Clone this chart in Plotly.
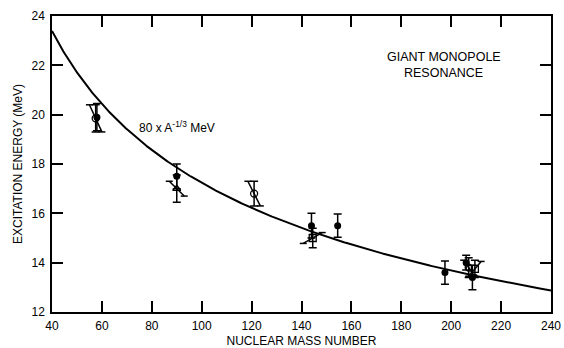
import numpy as np
import plotly.graph_objects as go

# ---- data ----
filled_A = [58, 90, 144, 154.5, 197.5, 206, 208.5]
filled_E = [19.9, 17.5, 15.5, 15.5, 13.6, 14.0, 13.4]
filled_err = [0.55, 0.5, 0.5, 0.47, 0.47, 0.3, 0.5]

open_A = [57.5, 90, 121, 144.5, 207, 209.5]
open_E = [19.85, 17.0, 16.8, 15.0, 13.8, 13.75]
open_err = [0.55, 0.55, 0.5, 0.4, 0.4, 0.35]
open_sym = ["circle-open", "triangle-up-open", "circle-open", "square-open", "circle-open", "square-open"]
slant_dA = [2.5, 3.0, 2.5, -3.8, 2.0, -2.5]
slant_dE = [0.55, 0.3, 0.5, 0.22, 0.3, 0.3]

curve_coef = 80.0
curve_exp = -1.0 / 3.0
x_ticks = list(range(40, 241, 20))
y_ticks = list(range(12, 25, 2))

FONT = "Liberation Sans"
fig = go.Figure()

# theoretical curve
A = np.linspace(40, 240, 400)
fig.add_trace(go.Scatter(x=A, y=curve_coef * A ** curve_exp, mode="lines",
                         line=dict(color="black", width=2), showlegend=False, hoverinfo="skip"))

# slanted bars for open points
cap = 1.4
sx, sy = [], []
for a, e, da, de in zip(open_A, open_E, slant_dA, slant_dE):
    x1, y1, x2, y2 = a - da, e + de, a + da, e - de
    sx += [x1, x2, None, x1 - cap, x1 + cap, None, x2 - cap, x2 + cap, None]
    sy += [y1, y2, None, y1, y1, None, y2, y2, None]
fig.add_trace(go.Scatter(x=sx, y=sy, mode="lines", line=dict(color="black", width=1.5),
                         showlegend=False, hoverinfo="skip"))

# open points
fig.add_trace(go.Scatter(x=open_A, y=open_E, mode="markers",
                         marker=dict(symbol=open_sym, size=7, color="black", line=dict(width=1.3)),
                         error_y=dict(type="data", array=open_err, color="black", thickness=1.5, width=4),
                         showlegend=False))

# filled points
fig.add_trace(go.Scatter(x=filled_A, y=filled_E, mode="markers",
                         marker=dict(symbol="circle", size=7, color="black"),
                         error_y=dict(type="data", array=filled_err, color="black", thickness=1.5, width=4),
                         showlegend=False))

fig.add_annotation(x=74, y=19.5, xref="x", yref="y", xanchor="left", yanchor="middle",
                   text="80 x A<sup>-1/3</sup> MeV", showarrow=False,
                   font=dict(family=FONT, size=12, color="black"))
fig.add_annotation(x=197, y=22.32, xref="x", yref="y", xanchor="center", yanchor="middle",
                   text="GIANT MONOPOLE", showarrow=False,
                   font=dict(family=FONT, size=12.5, color="black"))
fig.add_annotation(x=197, y=21.7, xref="x", yref="y", xanchor="center", yanchor="middle",
                   text="RESONANCE", showarrow=False,
                   font=dict(family=FONT, size=12.5, color="black"))

axis_common = dict(showgrid=False, zeroline=False, showline=True, linecolor="black", linewidth=1.5,
                   mirror="ticks", ticks="inside", ticklen=11, tickwidth=1.5, tickcolor="black",
                   automargin=False, tickfont=dict(family=FONT, size=12, color="black"))
fig.update_xaxes(range=[40, 240], tickvals=x_ticks, ticktext=[str(v) for v in x_ticks],
                 ticklabelstandoff=2,
                 title=dict(text="NUCLEAR MASS NUMBER", font=dict(family=FONT, size=12, color="black"), standoff=7),
                 **axis_common)
fig.update_yaxes(range=[12, 24], tickvals=y_ticks, ticktext=[str(v) for v in y_ticks],
                 ticklabelstandoff=3,
                 title=dict(text="EXCITATION ENERGY (MeV)", font=dict(family=FONT, size=12, color="black"), standoff=6),
                 **axis_common)

fig.update_layout(width=564, height=348, margin=dict(l=52, r=13, t=16, b=36),
                  plot_bgcolor="white", paper_bgcolor="white", showlegend=False)

fig.write_html("out.html")
